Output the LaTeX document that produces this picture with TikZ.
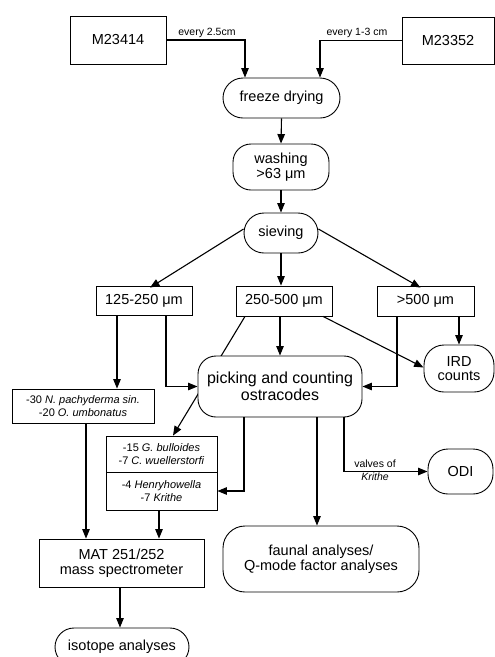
\documentclass[tikz,border=0pt]{standalone}
\usepackage{fontspec}
\setmainfont{Liberation Sans}
\usetikzlibrary{arrows.meta,calc}
\begin{document}
\begin{tikzpicture}[x=1pt,y=-1pt,
  every node/.style={font=\fontsize{14.5}{15.5}\selectfont, align=center, inner sep=0pt},
  sq/.style={draw, line width=0.8pt, rectangle},
  rnd/.style={draw, line width=0.9pt, rectangle, rounded corners=#1},
  rnd/.default=19pt,
  conn/.style={line width=1.1pt},
  arr/.style={conn, -{Triangle[length=9.5pt,width=7.5pt]}},
  sm/.style={font=\fontsize{10.5}{12}\selectfont},
  sp/.style={font=\fontsize{11}{12.5}\selectfont}
]
\useasboundingbox (0,0) rectangle (495,657);
% nodes
\node[sq, minimum width=96pt, minimum height=48pt] (m1) at (118,40) {M23414};
\node[sq, minimum width=92pt, minimum height=47pt] (m2) at (448,40.5) {M23352};
\node[rnd=20pt, minimum width=117pt, minimum height=40pt] (freeze) at (281.5,98) {freeze drying};
\node[rnd=18pt, minimum width=96pt, minimum height=46pt] (wash) at (281,167) {washing\\[-1pt]>63 μm};
\node[rnd=20pt, minimum width=74pt, minimum height=40pt] (sieve) at (281,233) {sieving};
\node[sq, minimum width=96pt, minimum height=29pt] (b125) at (144,300.5) {125-250 μm};
\node[sq, minimum width=96pt, minimum height=30pt] (b250) at (284,301) {250-500 μm};
\node[sq, minimum width=97pt, minimum height=30pt] (b500) at (425.5,301) {>500 μm};
\node[rnd=20pt, minimum width=70pt, minimum height=47pt] (ird) at (459,368.5) {IRD\\[-1pt]counts};
\node[sq, sp, minimum width=142pt, minimum height=34pt] (npach) at (83,406) {-30 \textit{N. pachyderma} \textit{sin.}\\-20 \textit{O. umbonatus}};
\node[sq, sp, minimum width=111pt, minimum height=36pt] (gA) at (161.5,454) {-15 \textit{G. bulloides}\\-7 \textit{C. wuellerstorfi}};
\node[sq, sp, minimum width=111pt, minimum height=38pt] (gB) at (161.5,491) {-4 \textit{Henryhowella}\\-7 \textit{Krithe}};
\node[rnd=20pt, minimum width=65pt, minimum height=45pt] (odi) at (460.5,471.5) {ODI};
\node[sq, minimum width=165pt, minimum height=48pt] (mat) at (121.5,563) {MAT 251/252\\mass spectrometer};
\node[rnd=22pt, minimum width=196pt, minimum height=66pt] (faunal) at (321,559) {faunal analyses/\\Q-mode factor analyses};
\node[rnd=19pt, minimum width=134pt, minimum height=38pt] (iso) at (122,647) {isotope analyses};
% line passing behind the picking box
\draw[arr] ([xshift=-39pt]b250.south) -- ([xshift=11.5pt]gA.north);
\node[rnd=18pt, fill=white, minimum width=164pt, minimum height=61pt, font=\fontsize{16}{17}\selectfont] (pick) at (280,386.5) {picking and counting\\ostracodes};
% connectors
\draw[arr] (m1.east) -| ([xshift=-36.5pt]freeze.north);
\node[sm, anchor=south] (l1) at (207,38) {every 2.5cm};
\draw[arr] (m2.west) -| ([xshift=38.5pt]freeze.north);
\node[sm, anchor=south] (l2) at (357,38) {every 1-3 cm};
\draw[arr] (freeze.south) -- (wash.north);
\draw[arr] (wash.south) -- (sieve.north);
\draw[arr] ([yshift=4pt]sieve.west) -- ([xshift=6pt,yshift=-2pt]b125.north);
\draw[arr] (sieve.south) -- (sieve.south |- b250.north);
\draw[arr] ([yshift=4pt]sieve.east) -- ([xshift=-5pt,yshift=-2pt]b500.north);
\draw[arr] ([xshift=-27pt]b125.south) -- ([xshift=-27pt]b125.south |- npach.north);
\draw[arr] ([xshift=22pt]b125.south) |- (pick.west);
\draw[arr] (b250.south -| pick.north) -- (pick.north);
\draw[arr] ([xshift=39pt]b250.south) -- ([yshift=1pt]ird.west);
\draw[arr] ([xshift=-28.5pt]b500.south) |- (pick.east);
\draw[arr] (b500.south -| ird.north) -- (ird.north);
\draw[arr] ([xshift=-36pt]pick.south) |- (gB.east);
\draw[arr] ([xshift=37pt]pick.south) -- ([xshift=37pt]pick.south |- faunal.north);
\draw[arr] ([xshift=64pt]pick.south) |- (odi.west);
\node[sm, anchor=south] (l3) at (375,468) {valves of};
\node[sm, anchor=north, font=\fontsize{10.5}{12}\selectfont\itshape] (l4) at (375,473) {Krithe};
\draw[arr] ([xshift=3pt]npach.south) -- ([xshift=3pt]npach.south |- mat.north);
\draw[arr] ([xshift=-2.5pt]gB.south) -- ([xshift=-2.5pt]gB.south |- mat.north);
\draw[arr] ([xshift=-1.5pt]mat.south) -- ([xshift=-1.5pt]mat.south |- iso.north);
\end{tikzpicture}
\end{document}
